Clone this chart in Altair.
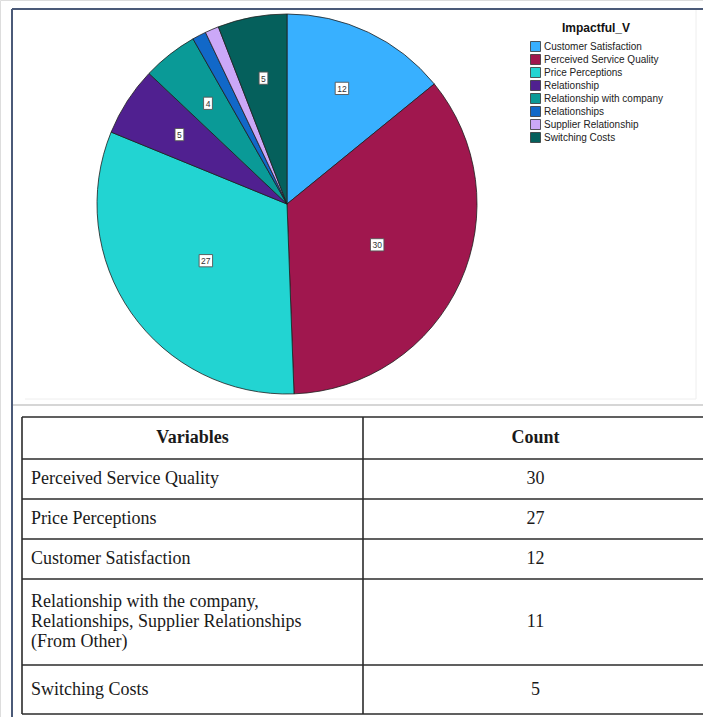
import altair as alt
import pandas as pd

# ---------------- data ----------------
categories = [
    "Customer Satisfaction",
    "Perceived Service Quality",
    "Price Perceptions",
    "Relationship",
    "Relationship with company",
    "Relationships",
    "Supplier Relationship",
    "Switching Costs",
]
counts = [12, 30, 27, 5, 4, 1, 1, 5]
slice_colors = [
    "#38b0ff", "#a0174e", "#22d4d2", "#502090",
    "#0a9a97", "#1168c8", "#cba8f8", "#05605c",
]

table_header = ["Variables", "Count"]
table_variables = [
    ["Perceived Service Quality"],
    ["Price Perceptions"],
    ["Customer Satisfaction"],
    ["Relationship with the company,", "Relationships, Supplier Relationships", "(From Other)"],
    ["Switching Costs"],
]
table_counts = [30, 27, 12, 11, 5]

# ---------------- layout ----------------
W, H = 703, 717
CX, CY, R = 287, 204, 190
LABEL_R_BIG, LABEL_R_SMALL = 99, 128
TABLE_LEFT, TABLE_MID, TABLE_RIGHT = 22, 363, 708
TABLE_TOP, TABLE_BOTTOM = 417, 714
HEADER_H, ROW_H, LINE_STEP, MULTI_EXTRA = 42, 40, 20, 6
SERIF = "Liberation Serif"
SANS = "Liberation Sans"

X_PIX = dict(scale=None, axis=None)
Y_PIX = dict(scale=None, axis=None)

# ---------------- pie ----------------
pie_df = pd.DataFrame({
    "Impactful_V": categories,
    "count": counts,
    "order": list(range(len(categories))),
})

arcs = alt.Chart(pie_df).mark_arc(
    radius=R, stroke="#1e1e1e", strokeWidth=0.8
).encode(
    x=alt.value(CX),
    y=alt.value(CY),
    theta=alt.Theta("count:Q", stack=True),
    order=alt.Order("order:Q"),
    color=alt.Color(
        "Impactful_V:N",
        scale=alt.Scale(domain=categories, range=slice_colors),
        legend=alt.Legend(
            title="Impactful_V",
            orient="none",
            legendX=530,
            legendY=23,
            padding=0,
            titleFont=SANS,
            titleFontSize=12,
            titleFontWeight="bold",
            titleColor="#111111",
            titleAnchor="middle",
            titlePadding=6,
            labelFont=SANS,
            labelFontSize=10,
            labelColor="#222222",
            labelOffset=3,
            symbolType="square",
            symbolSize=100,
            symbolStrokeColor="#333333",
            symbolStrokeWidth=0.8,
            symbolOpacity=1,
            rowPadding=-2,
        ),
    ),
)

# value labels sit at each slice's mid-angle
label_base = alt.Chart(pie_df).transform_joinaggregate(
    total="sum(count)"
).transform_window(
    cum="sum(count)", sort=[alt.SortField("order")], frame=[None, 0]
).transform_calculate(
    mid="2*PI*(datum.cum - datum.count/2)/datum.total",
    r=f"datum.count > 20 ? {LABEL_R_BIG} : {LABEL_R_SMALL}",
).transform_calculate(
    px=f"{CX} + datum.r*sin(datum.mid)",
    py=f"{CY} - datum.r*cos(datum.mid)",
    box="datum.count >= 10 ? 'M-1.1,-1H1.1V1H-1.1Z' : 'M-0.72,-1H0.72V1H-0.72Z'",
).transform_filter("datum.count > 1")

label_boxes = label_base.mark_point(
    filled=True, fill="white", stroke="#555555", strokeWidth=0.9, size=150, opacity=1
).encode(
    x=alt.X("px:Q", **X_PIX),
    y=alt.Y("py:Q", **Y_PIX),
    shape=alt.Shape("box:N", scale=None),
)

label_text = label_base.mark_text(
    font=SANS, fontSize=8.5, color="#333333", baseline="middle", align="center", dy=0.5
).encode(
    x=alt.X("px:Q", **X_PIX),
    y=alt.Y("py:Q", **Y_PIX),
    text=alt.Text("count:Q"),
)

# ---------------- table geometry ----------------
row_heights = []
for lines in table_variables:
    h = ROW_H + (len(lines) - 1) * LINE_STEP + (MULTI_EXTRA if len(lines) > 1 else 0)
    row_heights.append(h)

bounds = [TABLE_TOP, TABLE_TOP + HEADER_H]
for h in row_heights[:-1]:
    bounds.append(bounds[-1] + h)
bounds.append(TABLE_BOTTOM)

table_rules = []
for yb in bounds:
    table_rules.append({"x1": TABLE_LEFT, "x2": TABLE_RIGHT, "y1": yb, "y2": yb})
for xb in (TABLE_LEFT, TABLE_MID):
    table_rules.append({"x1": xb, "x2": xb, "y1": TABLE_TOP, "y2": TABLE_BOTTOM})
table_rules = pd.DataFrame(table_rules)

col1_center = (TABLE_LEFT + TABLE_MID) / 2
col2_center = (TABLE_MID + TABLE_RIGHT) / 2

header_rows = pd.DataFrame({
    "px": [col1_center, col2_center],
    "py": [(bounds[0] + bounds[1]) / 2] * 2,
    "text": table_header,
})

left_rows, count_rows = [], []
for i, (lines, cnt) in enumerate(zip(table_variables, table_counts)):
    top, bottom = bounds[i + 1], bounds[i + 2]
    mid = (top + bottom) / 2
    n = len(lines)
    for k, line in enumerate(lines):
        left_rows.append({
            "px": TABLE_LEFT + 9,
            "py": mid + (k - (n - 1) / 2) * LINE_STEP,
            "text": line,
        })
    count_rows.append({"px": col2_center, "py": mid, "text": str(cnt)})
left_rows = pd.DataFrame(left_rows)
count_rows = pd.DataFrame(count_rows)


def rules(df, color, width):
    return alt.Chart(df).mark_rule(color=color, strokeWidth=width).encode(
        x=alt.X("x1:Q", **X_PIX), x2="x2:Q",
        y=alt.Y("y1:Q", **Y_PIX), y2="y2:Q",
    )


def texts(df, **kw):
    return alt.Chart(df).mark_text(
        font=SERIF, fontSize=18, color="#1a1a1a", baseline="middle", **kw
    ).encode(
        x=alt.X("px:Q", **X_PIX),
        y=alt.Y("py:Q", **Y_PIX),
        text="text:N",
    )


# ---------------- frames ----------------
outer_frame = pd.DataFrame({
    "x1": [12, 12], "x2": [W, 12],
    "y1": [9, 9], "y2": [9, H],
})
separator = pd.DataFrame({"x1": [13], "x2": [W], "y1": [405], "y2": [405]})
chart_frame = pd.DataFrame({
    "x1": [696, 25], "x2": [696, 696],
    "y1": [10, 399], "y2": [399, 399],
})

chart = alt.layer(
    rules(chart_frame, "#eeeeee", 1),
    rules(separator, "#d6d6d6", 2),
    rules(outer_frame, "#4b5a78", 2),
    arcs,
    label_boxes,
    label_text,
    rules(table_rules, "#2b2b2b", 1.6),
    texts(header_rows, align="center", fontWeight="bold"),
    texts(left_rows, align="left"),
    texts(count_rows, align="center"),
).properties(
    width=W, height=H, padding=0, autosize=alt.AutoSizeParams(type="none")
).configure_view(stroke=None).configure(background="white")

chart.save("out.html", embed_options={"renderer": "svg", "actions": False})
